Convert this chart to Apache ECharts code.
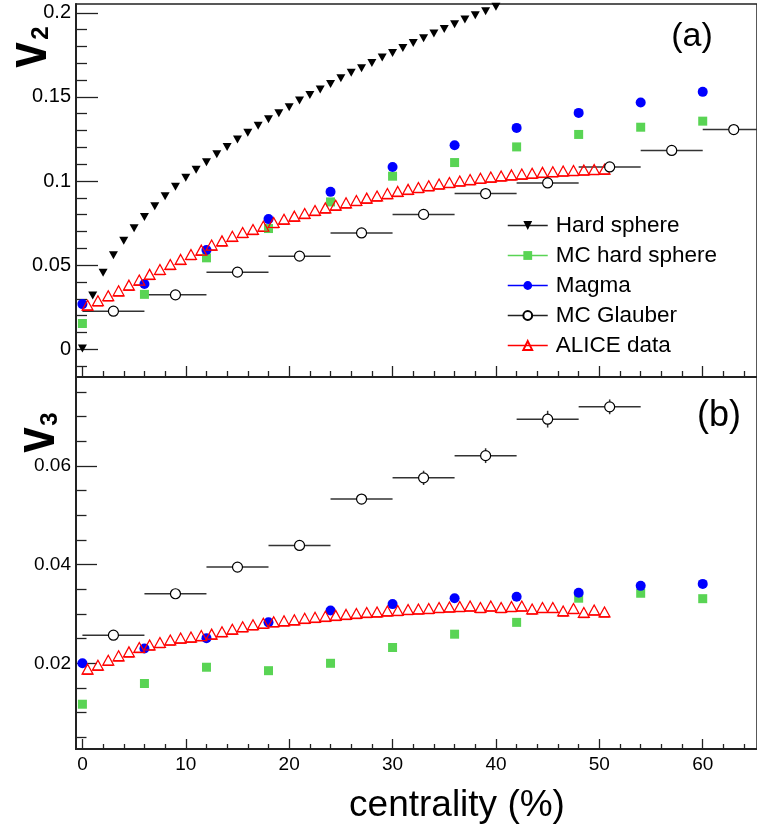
<!DOCTYPE html>
<html>
<head>
<meta charset="utf-8">
<script src="https://cdn.jsdelivr.net/npm/echarts@6/dist/echarts.min.js"></script>
<style>html,body{margin:0;padding:0;background:#fff;}#c{width:757px;height:833px;}</style>
</head>
<body>
<div id="c"></div>
<script>
// ---------------- data ----------------
const hsX  = [0,1,2,3,4,5,6,7,8,9,10,11,12,13,14,15,16,17,18,19,20,21,22,23,24,25,26,27,28,29,30,31,32,33,34,35,36,37,38,39,40];
const hsV2 = [0.0005,0.032,0.0455,0.056,0.0645,0.072,0.0787,0.085,0.091,0.0966,0.102,0.1067,0.1112,0.116,0.1203,0.1247,0.1287,0.1328,0.1368,0.1403,0.1439,0.1479,0.1512,0.1544,0.1577,0.1611,0.1643,0.167,0.1702,0.1734,0.1761,0.1791,0.1821,0.1849,0.1876,0.1904,0.1932,0.196,0.1985,0.2009,0.2035];

const mcX     = [0,6,12,18,24,30,36,42,48,54,60];
const mcHsV2  = [0.0154,0.0327,0.0544,0.0718,0.0876,0.1029,0.111,0.1203,0.1277,0.132,0.1356];
const magmaV2 = [0.0269,0.0388,0.059,0.0774,0.0936,0.1084,0.1213,0.1316,0.1405,0.1467,0.153];
const mcHsV3  = [0.0117,0.0159,0.0192,0.0185,0.0200,0.0232,0.0259,0.0283,0.0332,0.0342,0.0331];
const magmaV3 = [0.0200,0.0230,0.0251,0.0283,0.0307,0.0320,0.0332,0.0335,0.0343,0.0357,0.0361];

const glX2   = [3,9,15,21,27,33,39,45,51,57,63];
const glV2   = [0.0227,0.0324,0.0459,0.0554,0.0692,0.0802,0.0926,0.0989,0.1084,0.1182,0.1306];
const glX3   = [3,9,15,21,27,33,39,45,51];
const glV3   = [0.0257,0.0341,0.0395,0.0439,0.0533,0.0576,0.0621,0.0695,0.0720];
const glV3Err= [0.0005,0.0006,0.0007,0.0008,0.0009,0.00145,0.0015,0.0017,0.0015];

const aliceX  = [0.5,1.5,2.5,3.5,4.5,5.5,6.5,7.5,8.5,9.5,10.5,11.5,12.5,13.5,14.5,15.5,16.5,17.5,18.5,19.5,20.5,21.5,22.5,23.5,24.5,25.5,26.5,27.5,28.5,29.5,30.5,31.5,32.5,33.5,34.5,35.5,36.5,37.5,38.5,39.5,40.5,41.5,42.5,43.5,44.5,45.5,46.5,47.5,48.5,49.5,50.5];
const aliceV2 = [0.0233,0.0259,0.0289,0.0318,0.0352,0.0382,0.0416,0.0445,0.0475,0.0505,0.0534,0.056,0.059,0.0615,0.0642,0.0665,0.0683,0.0702,0.0724,0.0744,0.0762,0.0778,0.0796,0.0811,0.0827,0.0841,0.0855,0.0869,0.0882,0.0896,0.0909,0.0921,0.0932,0.0943,0.0953,0.0962,0.0971,0.0979,0.0987,0.0994,0.1001,0.1007,0.1012,0.1017,0.1022,0.1026,0.103,0.1033,0.1036,0.1039,0.1041];
const aliceV3 = [0.0178,0.0186,0.0196,0.0205,0.0213,0.0222,0.0227,0.0232,0.0237,0.0241,0.0243,0.0246,0.0249,0.0254,0.0259,0.0264,0.0268,0.0271,0.0274,0.0276,0.0278,0.0281,0.0283,0.0285,0.0287,0.0289,0.0291,0.0293,0.0294,0.0296,0.0297,0.0299,0.0300,0.0301,0.0303,0.0304,0.0305,0.0306,0.0303,0.0306,0.0303,0.0305,0.0306,0.0300,0.0303,0.0303,0.0296,0.0301,0.0293,0.0298,0.0294];

const xMajor  = [0,10,20,30,40,50,60];
const xMinor  = [2,4,6,8,12,14,16,18,22,24,26,28,32,34,36,38,42,44,46,48,52,54,56,58,62,64];
const y2Major = [0,0.05,0.1,0.15,0.2];
const y2Minor = [-0.01,0.01,0.02,0.03,0.04,0.06,0.07,0.08,0.09,0.11,0.12,0.13,0.14,0.16,0.17,0.18,0.19];
const y3Major = [0.02,0.04,0.06];
const y3Minor = [0.005,0.01,0.015,0.025,0.03,0.035,0.045,0.05,0.055,0.065,0.07,0.075];

const seriesNames = ['Hard sphere','MC hard sphere','Magma','MC Glauber','ALICE data'];

// ---------------- helpers ----------------
const FONT = 'Liberation Sans, Arial, Helvetica, sans-serif';
const AX = '#222';
const zip = (a, b) => a.map((v, i) => [v, b[i]]);
const zip3 = (a, b, c) => a.map((v, i) => [v, b[i], c ? c[i] : 0]);
const fmt = v => String(parseFloat(Number(v).toFixed(4)));

function barRenderer(half, color) {
  return function (params, api) {
    const x = api.value(0), y = api.value(1), e = api.value(2);
    const a = api.coord([x - half, y]), b = api.coord([x + half, y]);
    const ch = [{type: 'line', shape: {x1: a[0], y1: a[1], x2: b[0], y2: b[1]}, style: {stroke: color, lineWidth: 1.5}}];
    if (e > 0) {
      const c = api.coord([x, y - e]), d = api.coord([x, y + e]);
      ch.push({type: 'line', shape: {x1: c[0], y1: c[1], x2: d[0], y2: d[1]}, style: {stroke: color, lineWidth: 1.5}});
    }
    return {type: 'group', children: ch};
  };
}

function xAxes(grid, showLabels, majLen, minLen) {
  return [
    {gridIndex: grid, type: 'value', position: 'bottom', min: -0.62, max: 65.25,
     axisLine: {show: true, onZero: false, lineStyle: {color: AX, width: 2}},
     axisTick: {show: true, inside: true, length: majLen, customValues: xMajor, lineStyle: {color: AX, width: 1.3}},
     axisLabel: {show: showLabels, customValues: xMajor, fontSize: 19, fontFamily: FONT, color: '#000', margin: 6, formatter: fmt},
     splitLine: {show: false}},
    {gridIndex: grid, type: 'value', position: 'bottom', min: -0.62, max: 65.25,
     axisLine: {show: false, onZero: false},
     axisTick: {show: true, inside: true, length: minLen, customValues: xMinor, lineStyle: {color: AX, width: 1.3}},
     axisLabel: {show: false, customValues: xMinor},
     splitLine: {show: false}}
  ];
}
function yAxes(grid, min, max, major, minor, majLen, minLen, fs) {
  return [
    {gridIndex: grid, type: 'value', position: 'left', min: min, max: max,
     axisLine: {show: true, onZero: false, lineStyle: {color: AX, width: 2}},
     axisTick: {show: true, inside: true, length: majLen, customValues: major, lineStyle: {color: AX, width: 1.3}},
     axisLabel: {show: true, customValues: major, fontSize: fs, fontFamily: FONT, color: '#000', margin: 5, formatter: fmt},
     splitLine: {show: false}},
    {gridIndex: grid, type: 'value', position: 'left', min: min, max: max,
     axisLine: {show: false, onZero: false},
     axisTick: {show: true, inside: true, length: minLen, customValues: minor, lineStyle: {color: AX, width: 1.3}},
     axisLabel: {show: false, customValues: minor},
     splitLine: {show: false}}
  ];
}

function panelSeries(g, xi, yi, d) {
  const out = [];
  out.push({type: 'custom', name: 'glbars' + g, xAxisIndex: xi, yAxisIndex: yi, clip: true, silent: true,
            renderItem: barRenderer(3, '#333'), encode: {x: 0, y: 1}, data: d.gl});
  out.push({type: 'custom', name: 'alicebars' + g, xAxisIndex: xi, yAxisIndex: yi, clip: true, silent: true,
            renderItem: barRenderer(0.5, '#ff0000'), encode: {x: 0, y: 1}, data: d.alice});
  const common = {type: 'line', xAxisIndex: xi, yAxisIndex: yi, showSymbol: true, showAllSymbol: true, clip: true, silent: true};
  out.push(Object.assign({}, common, {name: 'MC hard sphere', data: d.mchs, symbol: 'rect', symbolSize: 9,
            itemStyle: {color: '#59d454'}, lineStyle: {color: '#59d454', opacity: 0}}));
  out.push(Object.assign({}, common, {name: 'Magma', data: d.magma, symbol: 'circle', symbolSize: 10,
            itemStyle: {color: '#0000ff'}, lineStyle: {color: '#0000ff', opacity: 0}}));
  out.push(Object.assign({}, common, {name: 'ALICE data', data: d.aliceP, symbol: 'triangle', symbolSize: [11, 10], symbolOffset: [0, -5],
            itemStyle: {color: 'rgba(255,255,255,0)', borderColor: '#ff0000', borderWidth: 1.2}, lineStyle: {color: '#ff0000', opacity: 0}}));
  out.push(Object.assign({}, common, {name: 'MC Glauber', data: d.glP, symbol: 'circle', symbolSize: 10,
            itemStyle: {color: '#ffffff', borderColor: '#000', borderWidth: 1.2}, lineStyle: {color: '#222', opacity: 0}}));
  if (d.hs) {
    out.push(Object.assign({}, common, {name: 'Hard sphere', data: d.hs, symbol: 'triangle', symbolRotate: 180, symbolSize: [9, 8],
              itemStyle: {color: '#000'}, lineStyle: {color: '#222', opacity: 0}}));
  }
  return out;
}

const series = [].concat(
  panelSeries(0, 0, 0, {
    gl: zip3(glX2, glV2), alice: zip3(aliceX, aliceV2),
    mchs: zip(mcX, mcHsV2), magma: zip(mcX, magmaV2), aliceP: zip(aliceX, aliceV2), glP: zip(glX2, glV2),
    hs: zip(hsX, hsV2)
  }),
  panelSeries(1, 2, 2, {
    gl: zip3(glX3, glV3, glV3Err), alice: zip3(aliceX, aliceV3),
    mchs: zip(mcX, mcHsV3), magma: zip(mcX, magmaV3), aliceP: zip(aliceX, aliceV3), glP: zip(glX3, glV3)
  })
);

const option = {
  animation: false,
  backgroundColor: '#fff',
  grid: [
    {left: 76, top: 4, width: 686, height: 373, show: true, borderColor: AX, borderWidth: 1.5, backgroundColor: 'transparent'},
    {left: 76, top: 377, width: 686, height: 372, show: true, borderColor: AX, borderWidth: 1.5, backgroundColor: 'transparent'}
  ],
  xAxis: [].concat(xAxes(0, false, 11, 6), xAxes(1, true, 10, 5)),
  yAxis: [].concat(
    yAxes(0, -0.0164, 0.2052, y2Major, y2Minor, 22, 11, 20),
    yAxes(1, 0.00262, 0.07805, y3Major, y3Minor, 21, 10.5, 19)
  ),
  legend: {
    data: seriesNames,
    orient: 'vertical', left: 507, top: 214, padding: 0,
    itemWidth: 40, itemHeight: 11, itemGap: 7,
    selectedMode: false,
    lineStyle: {width: 1.5, opacity: 1},
    textStyle: {fontSize: 22.5, fontFamily: FONT, color: '#000', lineHeight: 22, padding: [0, 0, 0, 3]}
  },
  graphic: [
    {type: 'text', x: 30, y: 55, rotation: Math.PI / 2, scaleY: 1.25, style: {text: 'v', font: 'bold 46px ' + FONT, fill: '#000', textAlign: 'center', textVerticalAlign: 'middle', align: 'center', verticalAlign: 'middle'}},
    {type: 'text', x: 41, y: 33, rotation: Math.PI / 2, style: {text: '2', font: 'bold 24px ' + FONT, fill: '#000', textAlign: 'center', textVerticalAlign: 'middle', align: 'center', verticalAlign: 'middle'}},
    {type: 'text', x: 38, y: 440, rotation: Math.PI / 2, scaleY: 1.25, style: {text: 'v', font: 'bold 46px ' + FONT, fill: '#000', textAlign: 'center', textVerticalAlign: 'middle', align: 'center', verticalAlign: 'middle'}},
    {type: 'text', x: 50, y: 419, rotation: Math.PI / 2, style: {text: '3', font: 'bold 24px ' + FONT, fill: '#000', textAlign: 'center', textVerticalAlign: 'middle', align: 'center', verticalAlign: 'middle'}},
    {type: 'text', x: 692, y: 37, style: {text: '(a)', font: '34px ' + FONT, fill: '#000', textAlign: 'center', textVerticalAlign: 'middle', align: 'center', verticalAlign: 'middle'}},
    {type: 'text', x: 719, y: 416, style: {text: '(b)', font: '36px ' + FONT, fill: '#000', textAlign: 'center', textVerticalAlign: 'middle', align: 'center', verticalAlign: 'middle'}},
    {type: 'text', x: 457, y: 806, style: {text: 'centrality (%)', font: '37px ' + FONT, fill: '#000', textAlign: 'center', textVerticalAlign: 'middle', align: 'center', verticalAlign: 'middle'}}
  ],
  series: series
};

const chart = echarts.init(document.getElementById('c'), null, {renderer: 'canvas'});
chart.setOption(option);
</script>
</body>
</html>
